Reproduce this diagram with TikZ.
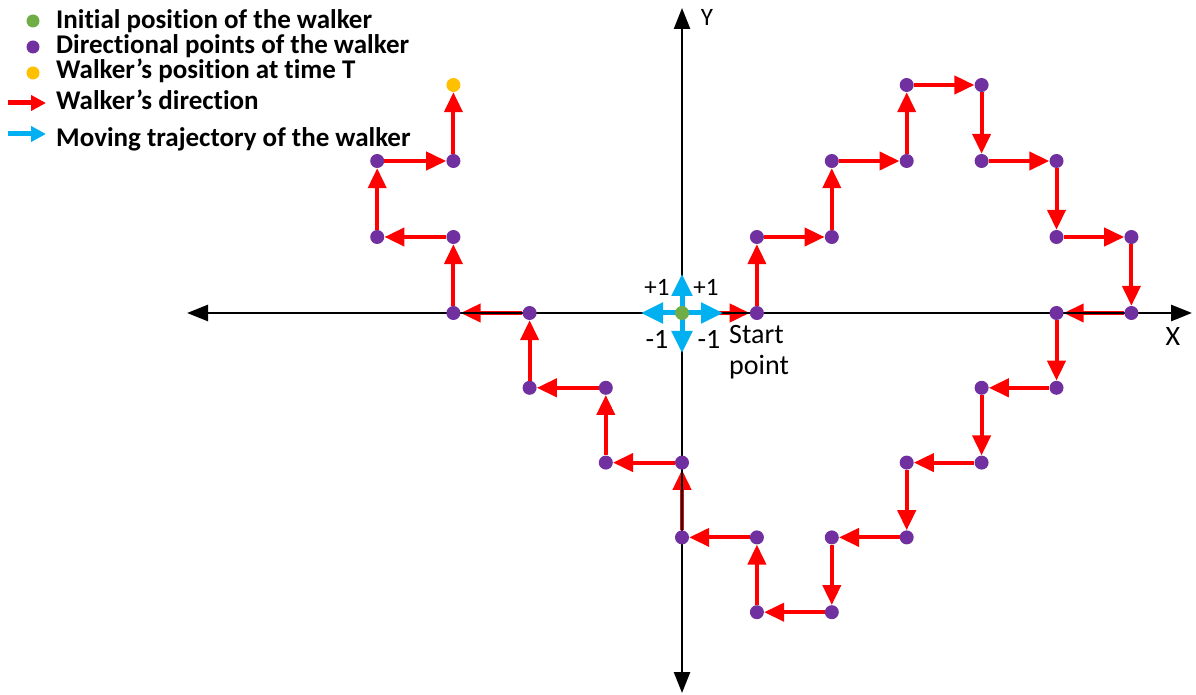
\documentclass[tikz,border=0pt]{standalone}
\usepackage{fontspec}
\setmainfont{Carlito}[RawFeature=-liga]
\usetikzlibrary{arrows.meta}
\pgfdeclarelayer{bg}
\pgfdeclarelayer{ax}
\pgfsetlayers{bg,ax,main}
\definecolor{wred}{RGB}{255,0,0}
\definecolor{wpurple}{RGB}{112,48,160}
\definecolor{wgreen}{RGB}{112,173,71}
\definecolor{worange}{RGB}{255,192,0}
\definecolor{wcyan}{RGB}{0,176,240}
\pgfmathdeclarefunction{gx}{1}{\pgfmathparse{682+((#1)<0?76.2:74.9)*(#1)}}
\pgfmathdeclarefunction{gy}{1}{\pgfmathparse{381+((#1)<0?74.8:76)*(#1)}}
\begin{document}
\begin{tikzpicture}[x=1pt,y=1pt,
  dot/.style={circle,fill=wpurple,inner sep=0pt,minimum size=14pt},
  walk/.style={draw=wred,line width=4pt,-{Triangle[length=20pt,width=18pt]}},
  axisline/.style={draw=black,line width=2.5pt,{Triangle[length=21pt,width=16pt]}-{Triangle[length=21pt,width=16pt]}},
  move/.style={draw=wcyan,line width=5pt,-{Triangle[length=22pt,width=20pt]}},
  legarrow/.style={line width=5pt,-{Triangle[length=15pt,width=15pt]}},
  lbl/.style={font=\fontsize{28}{31}\selectfont,inner sep=0pt},
  plbl/.style={font=\fontsize{25}{28}\selectfont,inner sep=0pt},
  leg/.style={font=\bfseries\fontsize{27}{30}\selectfont,anchor=base west,inner sep=0pt}]
\useasboundingbox (0,0) rectangle (1196,694);

% walker points
\coordinate (oc) at (682,381);
\foreach \k/\i/\j in {1/1/0,2/1/1,3/2/1,4/2/2,5/3/2,6/3/3,7/4/3,8/4/2,9/5/2,10/5/1,11/6/1,12/6/0,13/5/0,14/5/-1,15/4/-1,16/4/-2,17/3/-2,18/3/-3,19/2/-3,20/2/-4,21/1/-4,22/1/-3,23/0/-3,24/0/-2,25/-1/-2,26/-1/-1,27/-2/-1,28/-2/0,29/-3/0,30/-3/1,31/-4/1,32/-4/2,33/-3/2}{
  \node[dot] (p\k) at ({gx(\i)},{gy(\j)}) {};
}
\node[dot,fill=worange] (p34) at ({gx(-3)},{gy(3)}) {};

% red direction arrows
\begin{pgfonlayer}{bg}
\draw[walk] (oc) -- (p1);
\foreach \a in {1,...,33}{
  \pgfmathtruncatemacro\b{\a+1}
  \draw[walk] (p\a) -- (p\b);
}
\end{pgfonlayer}

% axes and moving trajectory
\begin{pgfonlayer}{ax}
\coordinate (xl) at (187,381);
\coordinate (xr) at (1192,381);
\coordinate (yt) at (682,686);
\coordinate (yb) at (682,1);
\draw[axisline] (xl) -- (xr);
\draw[axisline] (yb) -- (yt);
\coordinate (mr) at (723,381);
\coordinate (ml) at (641,381);
\coordinate (mu) at (682,420);
\coordinate (md) at (682,341);
\foreach \t in {mr,ml,mu,md}{
  \draw[move] (oc) -- (\t);
}
\end{pgfonlayer}

\node[dot,fill=wgreen] (o) at (oc) {};

% labels
\node[plbl] (pl1) at (657,407) {+1};
\node[plbl] (pl2) at (706,407) {+1};
\node[lbl] (ml1) at (657,355) {-1};
\node[lbl] (ml2) at (709,355) {-1};
\node[lbl,align=left,anchor=north west] (sp) at (729,369) {Start\\point};
\node[lbl] (xlab) at (1173,357) {X};
\node[lbl,font=\fontsize{25}{28}\selectfont] (ylab) at (707,677) {Y};

% legend
\node[dot,fill=wgreen,minimum size=13pt] (l1) at (33,673) {};
\node[dot,minimum size=13pt] (l2) at (33,647) {};
\node[dot,fill=worange,minimum size=13pt] (l3) at (33,621) {};
\coordinate (ra) at (8,591);
\coordinate (rb) at (46,591);
\coordinate (ca) at (8,560);
\coordinate (cb) at (46,560);
\draw[legarrow,wred] (ra) -- (rb);
\draw[legarrow,wcyan] (ca) -- (cb);
\node[leg] (t1) at (56,665) {Initial position of the walker};
\node[leg] (t2) at (56,640) {Directional points of the walker};
\node[leg] (t3) at (56,615) {Walker’s position at time T};
\node[leg] (t4) at (56,584) {Walker’s direction};
\node[leg] (t5) at (56,547) {Moving trajectory of the walker};
\end{tikzpicture}
\end{document}
